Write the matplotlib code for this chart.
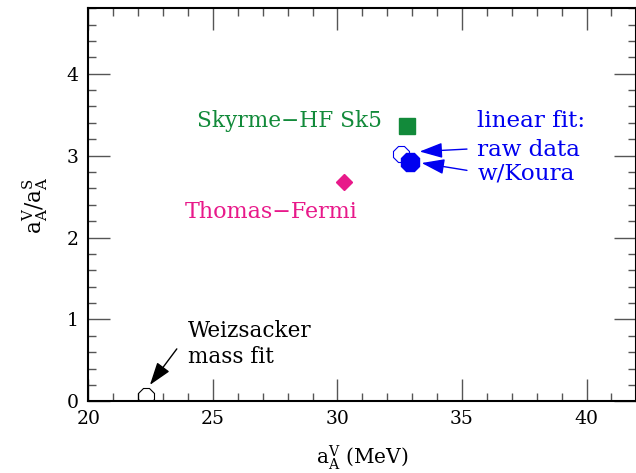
import matplotlib
matplotlib.use("Agg")
import matplotlib.pyplot as plt
from matplotlib.ticker import MultipleLocator

plt.rcParams['font.family'] = 'DejaVu Serif'
plt.rcParams['mathtext.fontset'] = 'dejavuserif'

# data points (a_A^V in MeV, a_A^V / a_A^S)
weiz_x, weiz_y = [22.3], [0.06]
tf_x, tf_y = [30.25], [2.68]
sky_x, sky_y = [32.8], [3.36]
raw_x, raw_y = [32.55], [3.02]
koura_x, koura_y = [32.9], [2.92]

# arrows: (tail x, tail y, head x, head y)
arrow_raw = (35.2, 3.08, 33.3, 3.05)
arrow_koura = (35.2, 2.82, 33.38, 2.91)
arrow_weiz = (23.55, 0.64, 22.47, 0.20)

blue = '#0000f0'
green = '#128a3a'
pink = '#e8198a'

fig = plt.figure(figsize=(6.36, 4.73), dpi=100)
ax = fig.add_axes([0.139, 0.1516, 0.8615, 0.831])

ax.plot(weiz_x, weiz_y, marker='8', ms=11.7, mfc='none', mec='black', mew=0.8, ls='none')
ax.plot(tf_x, tf_y, marker='D', ms=8.2, color=pink, ls='none')
ax.plot(sky_x, sky_y, marker='s', ms=11.2, color=green, ls='none')
ax.plot(raw_x, raw_y, marker='8', ms=12.5, mfc='none', mec=blue, mew=0.8, ls='none')
ax.plot(koura_x, koura_y, marker='8', ms=13.3, color=blue, ls='none')

ax.text(24.35, 3.35, 'Skyrme\u2212HF Sk5', color=green, fontsize=15.6, va='baseline')
ax.text(23.88, 2.24, 'Thomas\u2212Fermi', color=pink, fontsize=16, va='baseline')
ax.text(35.62, 3.42, 'linear fit:', color=blue, fontsize=16.6, va='center')
ax.text(35.62, 3.07, 'raw data', color=blue, fontsize=16.6, va='center')
ax.text(35.62, 2.78, 'w/Koura', color=blue, fontsize=16.6, va='center')
ax.text(24.0, 0.86, 'Weizsacker', color='black', fontsize=15.5, va='center')
ax.text(24.0, 0.54, 'mass fit', color='black', fontsize=15.5, va='center')

for arr, col in [(arrow_raw, blue), (arrow_koura, blue), (arrow_weiz, 'black')]:
    ax.annotate('', xy=(arr[2], arr[3]), xytext=(arr[0], arr[1]),
                arrowprops=dict(arrowstyle='-|>,head_length=14,head_width=4.7',
                                mutation_scale=1, color=col, lw=1,
                                shrinkA=0, shrinkB=0))

ax.set_xlim(20, 42)
ax.set_ylim(0, 4.8)
ax.xaxis.set_major_locator(MultipleLocator(5))
ax.xaxis.set_minor_locator(MultipleLocator(1))
ax.yaxis.set_major_locator(MultipleLocator(1))
ax.yaxis.set_minor_locator(MultipleLocator(0.2))
ax.tick_params(which='both', direction='in', top=True, right=True, color='#555555', width=1)
ax.tick_params(which='major', length=16, labelsize=13.5)
ax.tick_params(axis='x', which='major', pad=6)
ax.tick_params(axis='y', which='major', pad=7)
ax.tick_params(which='minor', length=5.8)
for s in ax.spines.values():
    s.set_linewidth(1.5)

ax.set_xlabel(r'$\mathregular{a_A^V}$ (MeV)', fontsize=14.5, labelpad=11)
ax.set_ylabel(r'$\mathregular{a_A^V/a_A^S}$', fontsize=15.5, labelpad=12)

fig.savefig('out.png', dpi=100)
